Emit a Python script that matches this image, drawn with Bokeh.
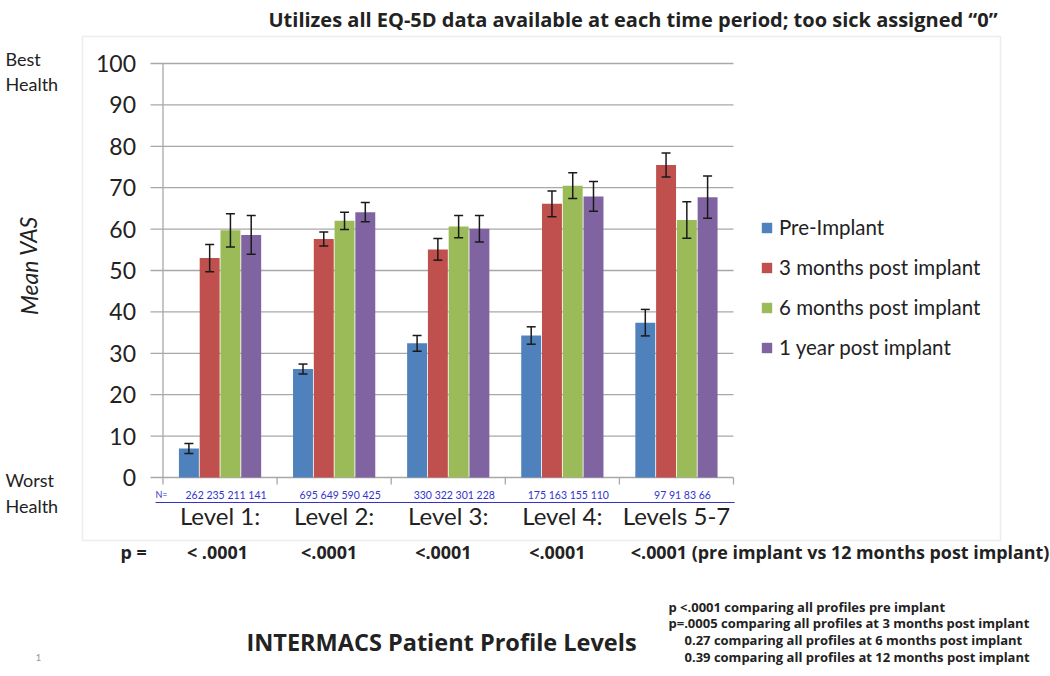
from bokeh.plotting import figure
from bokeh.models import (ColumnDataSource, Whisker, TeeHead, Label,
                          BoxAnnotation, Range1d, Legend, LegendItem)
from bokeh.core.properties import value
from bokeh.embed import file_html
from bokeh.resources import INLINE

# ---------------- data ----------------
levels = ["Level 1:", "Level 2:", "Level 3:", "Level 4:", "Levels 5-7"]
series = ["Pre-Implant", "3 months post implant", "6 months post implant", "1 year post implant"]
pre_implant = [7.0, 26.2, 32.4, 34.3, 37.4]
pre_err = [1.2, 1.2, 1.9, 2.1, 3.2]
months_3 = [53.0, 57.6, 55.1, 66.1, 75.5]
months_3_err = [3.3, 1.7, 2.6, 3.1, 2.9]
months_6 = [59.7, 62.0, 60.6, 70.5, 62.2]
months_6_err = [4.0, 2.1, 2.7, 3.1, 4.4]
year_1 = [58.6, 64.1, 60.1, 67.9, 67.7]
year_1_err = [4.7, 2.3, 3.2, 3.6, 5.1]
n_counts = ["262 235 211 141", "695 649 590 425", "330 322 301 228",
            "175 163 155 110", "97 91 83 66"]
p_values = ["< .0001", "<.0001", "<.0001", "<.0001",
            "<.0001 (pre implant vs 12 months post implant)"]
y_ticks = [0, 10, 20, 30, 40, 50, 60, 70, 80, 90, 100]
notes = ["p <.0001 comparing all profiles pre implant",
         "p=.0005 comparing all profiles at 3 months post implant",
         "0.27 comparing all profiles at 6 months post implant",
         "0.39 comparing all profiles at 12 months post implant"]
title_text = "Utilizes all EQ-5D data available at each time period; too sick assigned \u201c0\u201d"

colors = ["#4F81BD", "#C0504D", "#9BBB59", "#8064A2"]
values = [pre_implant, months_3, months_6, year_1]
errors = [pre_err, months_3_err, months_6_err, year_1_err]

FONT = "Lato"
BFONT = "Open Sans"
TXT = "#222222"
GRID = "#a8a8a8"
W, H = 1050, 676
# plot-area placement in picture pixels
X0_PAGE, X_PX = 162.5, 114.1      # x of category boundary 0, px per category
Y0_PAGE, Y_PX = 477.0, 4.14       # y of value 0, px per unit


def dx(px):   # picture x -> data x
    return (px - X0_PAGE) / X_PX


def dy(py):   # picture y -> data y
    return (Y0_PAGE - py) / Y_PX


p = figure(width=W, height=H, output_backend="svg", toolbar_location=None,
           x_range=Range1d(dx(0), dx(W)), y_range=Range1d(dy(H), dy(0)),
           min_border=0, x_axis_type=None, y_axis_type=None)
p.outline_line_color = None
p.xgrid.visible = False
p.ygrid.visible = False
p.background_fill_color = "white"
p.border_fill_color = "white"

# outer chart border
p.add_layout(BoxAnnotation(left=82, right=1000, top=H - 36, bottom=H - 540,
                           left_units="screen", right_units="screen",
                           top_units="screen", bottom_units="screen",
                           fill_alpha=0, line_color="#c4c4c4", line_width=1.5))

nlev = len(levels)
# horizontal grid lines with outside tick marks on the value axis
p.segment(x0=[dx(150)] * len(y_ticks), x1=[nlev] * len(y_ticks), y0=y_ticks, y1=y_ticks,
          line_color=GRID, line_width=1.3)
# value axis line
p.segment(x0=[0], x1=[0], y0=[0], y1=[max(y_ticks)], line_color=GRID, line_width=1.3)
# category axis tick marks at boundaries
p.segment(x0=list(range(nlev + 1)), x1=list(range(nlev + 1)),
          y0=[0] * (nlev + 1), y1=[dy(Y0_PAGE + 7)] * (nlev + 1),
          line_color=GRID, line_width=1.3)
# value tick labels
p.text(x=[0] * len(y_ticks), y=y_ticks, text=[str(t) for t in y_ticks], x_offset=-27,
       text_align="right", text_baseline="middle", text_font=value(FONT),
       text_font_size="23px", text_color=TXT)

bw = 0.182
legend_items = []
for j, (name, vals, errs, col) in enumerate(zip(series, values, errors, colors)):
    xs = [i + 0.5 + (j - 1.5) * bw for i in range(nlev)]
    src = ColumnDataSource(dict(x=xs, top=vals,
                                upper=[v + e for v, e in zip(vals, errs)],
                                lower=[v - e for v, e in zip(vals, errs)]))
    r = p.vbar(x="x", top="top", width=bw * 0.96, source=src, fill_color=col,
               line_color=None)
    legend_items.append(LegendItem(label=name, renderers=[r]))
    wk = Whisker(base="x", upper="upper", lower="lower", source=src, level="overlay",
                 line_color="#1a1a1a", line_width=1.5,
                 upper_head=TeeHead(size=9, line_color="#1a1a1a", line_width=1.5),
                 lower_head=TeeHead(size=9, line_color="#1a1a1a", line_width=1.5))
    p.add_layout(wk)

# category labels
p.text(x=[i + 0.5 for i in range(nlev)], y=[dy(515)] * nlev, text=levels,
       text_align="center", text_baseline="middle", text_font=value(FONT),
       text_font_size="24px", text_color=TXT)
# N row
p.text(x=[i + 0.5 for i in range(nlev)], y=[dy(494)] * nlev, text=n_counts,
       x_offset=6, text_align="center", text_baseline="middle", text_font=value(FONT),
       text_font_size="10.5px", text_color="#3333cc")
p.text(x=[dx(155)], y=[dy(494)], text=["N="], text_align="left", text_baseline="middle",
       text_font=value(FONT), text_font_size="9px", text_color="#3333cc")
p.segment(x0=[dx(155)], x1=[nlev + 0.01], y0=[dy(502)], y1=[dy(502)],
          line_color="#3333cc", line_width=1)
# p-value row
p_x = [i + 0.21 for i in range(nlev - 1)] + [nlev - 1 + 0.1]
p.text(x=p_x, y=[dy(551)] * nlev, text=p_values, text_align="left",
       text_baseline="middle", text_font=value(BFONT), text_font_size="17.9px",
       text_font_style="bold", text_color=TXT)

legend = Legend(items=legend_items, location=(760, H - 359))
legend.border_line_color = None
legend.background_fill_alpha = 0
legend.label_text_font = FONT
legend.label_text_font_size = "20.5px"
legend.label_text_color = TXT
legend.glyph_width = 13
legend.glyph_height = 13
legend.label_standoff = 6
legend.spacing = 16
legend.padding = 0
legend.margin = 0
p.add_layout(legend)


def lab(text, px, py, size, bold=False, align="left", color=TXT, angle=0,
        italic=False, font=FONT):
    style = "bold" if bold else ("italic" if italic else "normal")
    p.add_layout(Label(text=text, x=px, y=H - py, x_units="screen",
                       y_units="screen", text_font=font, text_font_size=f"{size}px",
                       text_color=color, text_align=align, text_baseline="middle",
                       angle=angle, text_font_style=style))


lab(title_text, 268, 19, 20, bold=True, font=BFONT)
lab("Best", 5, 58, 18)
lab("Health", 5, 83, 18)
lab("Worst", 5, 479, 18)
lab("Health", 5, 505, 18)
lab("Mean VAS", 28, 265, 23, italic=True, align="center", angle=1.5708)
lab("p =", 120, 551, 17.9, bold=True, font=BFONT)
lab("INTERMACS Patient Profile Levels", 441, 641, 23.5, bold=True, align="center", font=BFONT)
lab("1", 35, 657, 10, color="#999999")
for t, x0, yy in zip(notes, [668, 668, 684, 684], [606, 622, 639, 656]):
    lab(t, x0, yy, 13, bold=True, font=BFONT)

open("out.html", "w").write(file_html(p, INLINE))
